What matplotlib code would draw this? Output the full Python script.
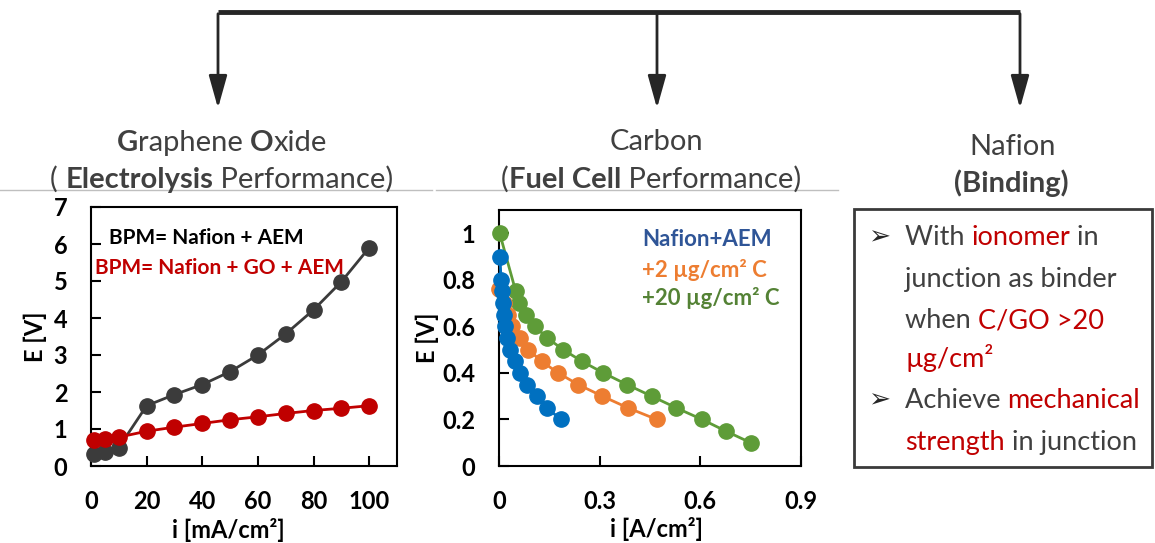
import matplotlib
matplotlib.use("Agg")
import matplotlib.pyplot as plt
from matplotlib.patches import Rectangle, FancyArrowPatch

plt.rcParams['font.family'] = ['Lato', 'DejaVu Sans']

# electrolysis (graphene oxide)
go_i = [1, 5, 10, 20, 30, 40, 50, 60, 70, 80, 90, 100]
bpm_plain_E = [0.33, 0.37, 0.5, 1.63, 1.93, 2.2, 2.55, 3.0, 3.57, 4.22, 4.98, 5.9]
bpm_go_E = [0.7, 0.72, 0.78, 0.94, 1.05, 1.15, 1.25, 1.33, 1.42, 1.5, 1.56, 1.63]

# fuel cell (carbon)
naf_i = [0.003, 0.006, 0.008, 0.012, 0.015, 0.018, 0.023, 0.033, 0.047, 0.062, 0.082, 0.112, 0.142, 0.185]
naf_E = [0.9, 0.8, 0.75, 0.7, 0.65, 0.6, 0.55, 0.5, 0.45, 0.4, 0.35, 0.3, 0.25, 0.2]
c2_i = [0.001, 0.015, 0.027, 0.04, 0.062, 0.087, 0.127, 0.176, 0.236, 0.308, 0.384, 0.47]
c2_E = [0.76, 0.7, 0.65, 0.6, 0.55, 0.5, 0.45, 0.4, 0.35, 0.3, 0.25, 0.2]
c20_i = [0.002, 0.05, 0.061, 0.081, 0.107, 0.144, 0.191, 0.247, 0.311, 0.381, 0.455, 0.528, 0.605, 0.676, 0.75]
c20_E = [1.0, 0.75, 0.7, 0.65, 0.6, 0.55, 0.5, 0.45, 0.4, 0.35, 0.3, 0.25, 0.2, 0.15, 0.1]

DARK = '#404040'
RED = '#C00000'

fig = plt.figure(figsize=(11.55, 5.43), dpi=100)

# overlay in pixel units for the diagram parts
deco = fig.add_axes([0, 0, 1, 1])
deco.set_xlim(0, 1155)
deco.set_ylim(543, 0)
deco.axis('off')
deco.set_zorder(-1)
renderer = fig.canvas.get_renderer()


def put_runs(x, y, runs, size, ha='left'):
    texts = []
    for s, c, w in runs:
        texts.append(deco.text(0, y, s, color=c, fontweight=w, fontsize=size, va='baseline'))
    widths = [t.get_window_extent(renderer).width for t in texts]
    start = x - sum(widths) / 2 if ha == 'center' else x
    for t, w in zip(texts, widths):
        t.set_x(start)
        start += w


# connector with arrows
deco.plot([218, 1020], [12, 12], color='#262626', lw=3.5, solid_capstyle='butt')
for xa in [218, 657, 1020]:
    deco.add_patch(FancyArrowPatch((xa, 11), (xa, 111), arrowstyle='-|>,head_length=1.0,head_width=0.28',
                                   mutation_scale=20, color='#262626', lw=2))

# headings
put_runs(222, 151, [('G', DARK, 'bold'), ('raphene ', DARK, 'normal'), ('O', DARK, 'bold'), ('xide', DARK, 'normal')], 21, 'center')
put_runs(222, 188, [('( ', DARK, 'normal'), ('Electrolysis', DARK, 'bold'), (' Performance)', DARK, 'normal')], 21, 'center')
put_runs(656, 150, [('Carbon', DARK, 'normal')], 21, 'center')
put_runs(651, 188, [('(', DARK, 'normal'), ('Fuel Cell', DARK, 'bold'), (' Performance)', DARK, 'normal')], 21, 'center')
put_runs(1013, 155, [('Nafion', DARK, 'normal')], 21, 'center')
put_runs(1011, 192, [('(Binding)', DARK, 'bold')], 21, 'center')
deco.plot([0, 432], [190, 190], color='#BFBFBF', lw=1)
deco.plot([436, 838], [190, 190], color='#BFBFBF', lw=1)

# right text box
deco.add_patch(Rectangle((854, 209), 298, 258, fill=False, ec='#3A3A3A', lw=2))
box_lines = [
    [('With ', DARK, 'normal'), ('ionomer', RED, 'normal'), (' in', DARK, 'normal')],
    [('junction as binder', DARK, 'normal')],
    [('when ', DARK, 'normal'), ('C/GO >20', RED, 'normal')],
    [('µg/cm²', RED, 'normal')],
    [('Achieve ', DARK, 'normal'), ('mechanical', RED, 'normal')],
    [('strength', RED, 'normal'), (' in junction', DARK, 'normal')],
]
box_base = [245, 287, 328, 367, 408, 450]
for runs, yb in zip(box_lines, box_base):
    put_runs(905, yb, runs, 19.5)
for yb in [box_base[0], box_base[4]]:
    deco.text(868, yb - 1, '➢', fontsize=19, color='#262626', va='baseline', family='DejaVu Sans')


def style_axes(ax):
    for sp in ax.spines.values():
        sp.set_linewidth(1.5)
        sp.set_color('black')
    ax.tick_params(direction='in', length=7, width=1.5, pad=17, labelsize=17)
    for lab in ax.get_xticklabels() + ax.get_yticklabels():
        lab.set_fontweight('bold')


# left plot
ax1 = fig.add_axes([91 / 1155, 1 - 466 / 543, 306 / 1155, 259 / 543])
ax1.plot(go_i, bpm_plain_E, '-o', color='#3B3B3B', lw=2, ms=11, clip_on=False, zorder=3)
ax1.plot(go_i, bpm_go_E, '-o', color=RED, lw=2, ms=11, clip_on=False, zorder=4)
ax1.set_xlim(0, 110)
ax1.set_ylim(0, 7)
ax1.set_xticks([0, 20, 40, 60, 80, 100])
ax1.set_yticks(range(8))
style_axes(ax1)
ax1.set_xlabel('i [mA/cm²]', fontsize=17, fontweight='bold')
ax1.set_ylabel('E [V]', fontsize=17, fontweight='bold')
ax1.xaxis.set_label_coords(0.45, -0.2)
ax1.yaxis.set_label_coords(-0.145, 0.5)
ax1.text(0.06, 0.88, 'BPM= Nafion + AEM', transform=ax1.transAxes, fontsize=15, fontweight='bold', color='black', va='center')
ax1.text(0.012, 0.765, 'BPM= Nafion + GO + AEM', transform=ax1.transAxes, fontsize=15, fontweight='bold', color=RED, va='center')

# middle plot
ax2 = fig.add_axes([499 / 1155, 1 - 466 / 543, 302 / 1155, 256 / 543])
ax2.plot(c20_i, c20_E, '-o', color='#5E9C38', lw=2, ms=11, clip_on=False, zorder=3)
ax2.plot(c2_i, c2_E, '-o', color='#ED7D31', lw=2, ms=11, clip_on=False, zorder=4)
ax2.plot(naf_i, naf_E, '-o', color='#0070C0', lw=2, ms=11, clip_on=False, zorder=5)
ax2.set_xlim(0, 0.9)
ax2.set_ylim(0, 1.1)
ax2.set_xticks([0, 0.3, 0.6, 0.9])
ax2.set_xticklabels(['0', '0.3', '0.6', '0.9'])
ax2.set_yticks([0, 0.2, 0.4, 0.6, 0.8, 1.0])
ax2.set_yticklabels(['0', '0.2', '0.4', '0.6', '0.8', '1'])
style_axes(ax2)
ax2.set_xlabel('i [A/cm²]', fontsize=17, fontweight='bold')
ax2.set_ylabel('E [V]', fontsize=17, fontweight='bold')
ax2.xaxis.set_label_coords(0.52, -0.2)
ax2.yaxis.set_label_coords(-0.2, 0.5)
ax2.text(0.475, 0.885, 'Nafion+AEM', transform=ax2.transAxes, fontsize=16, fontweight='bold', color='#2F5597', va='center')
ax2.text(0.475, 0.765, '+2 µg/cm² C', transform=ax2.transAxes, fontsize=16, fontweight='bold', color='#ED7D31', va='center')
ax2.text(0.475, 0.655, '+20 µg/cm² C', transform=ax2.transAxes, fontsize=16, fontweight='bold', color='#548235', va='center')

fig.savefig('out.png', dpi=100)
